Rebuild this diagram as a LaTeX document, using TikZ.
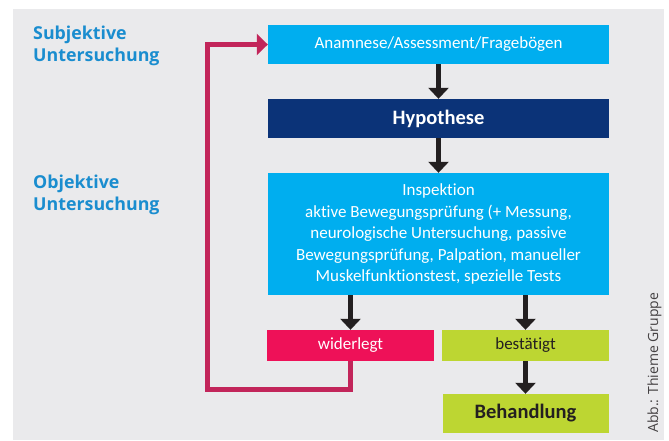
\documentclass[tikz,border=0pt]{standalone}
\usepackage{fontspec}
\setmainfont{Carlito}[Ligatures=NoCommon]
\newfontfamily\labelfont{Open Sans}
\usetikzlibrary{arrows.meta}
\definecolor{cyanbox}{HTML}{00AEEF}
\definecolor{navybox}{HTML}{0B3378}
\definecolor{redbox}{HTML}{EE1158}
\definecolor{loopred}{HTML}{C2255A}
\definecolor{greenbox}{HTML}{BDD632}
\definecolor{bggray}{HTML}{EAEAEC}
\definecolor{labelblue}{HTML}{1A8DCF}
\definecolor{darktext}{HTML}{231F20}
\tikzset{>={Triangle[width=20pt,length=11pt]}}
\tikzset{
  box/.style={inner sep=0pt, align=center, minimum width=341pt, minimum height=39pt,
    font=\fontsize{17}{21.5}\selectfont},
  smallbox/.style={box, minimum width=167pt, minimum height=31pt},
  bigtext/.style={font=\fontsize{20.5}{22}\selectfont\bfseries},
  flow/.style={->, line width=5pt, draw=darktext},
  back/.style={line width=5pt, draw=loopred, -{Triangle[width=21pt,length=11pt]}},
  side/.style={anchor=north west, align=left, inner sep=0pt, text=labelblue,
    font=\labelfont\fontsize{17.8}{22.5}\selectfont\bfseries}
}

\begin{document}
\begin{tikzpicture}[x=1pt,y=-1pt]
\useasboundingbox (0,0) rectangle (669,440);
\fill[bggray] (13,9) rectangle (664,440);
% boxes
\node[box, fill=cyanbox, text=white] (ana) at (438.5,44.5) {Anamnese/Assessment/Fragebögen};
\node[box, fill=navybox, text=white, bigtext] (hyp) at (438.5,118.5) {Hypothese};
\node[box, fill=cyanbox, text=white, minimum height=122pt] (insp) at (438.5,234) {Inspektion\\
  aktive Bewegungsprüfung (+ Messung,\\ neurologische Untersuchung, passive\\
  Bewegungsprüfung, Palpation, manueller\\ Muskelfunktionstest, spezielle Tests};
\node[smallbox, fill=redbox, text=white] (wid) at (350.5,345.5) {widerlegt};
\node[smallbox, fill=greenbox, text=darktext] (bes) at (525.5,345.5) {bestätigt};
\node[smallbox, fill=greenbox, text=darktext, minimum width=166pt, minimum height=39pt,
  bigtext] (beh) at (525.5,413.5) {Behandlung};
% labels
\node[side] (subj) at (33,25.5) {Subjektive\\ Untersuchung};
\node[side] (obj) at (33,174.5) {Objektive\\ Untersuchung};
\node[rotate=90, anchor=base west, inner sep=0pt, text=darktext!85,
  font=\labelfont\fontsize{14}{16}\selectfont] (abb) at (658,433) {Abb.: Thieme Gruppe};
% arrows
\draw[flow] (ana) -- (hyp);
\draw[flow] (hyp) -- (insp);
\draw[flow] (insp.south -| wid) -- (wid);
\draw[flow] (insp.south -| bes) -- (bes);
\draw[flow] (bes) -- (beh);
\coordinate (loopL) at (207,389);
\draw[back] (wid.south) |- (loopL) |- (ana.west);
\end{tikzpicture}
\end{document}
